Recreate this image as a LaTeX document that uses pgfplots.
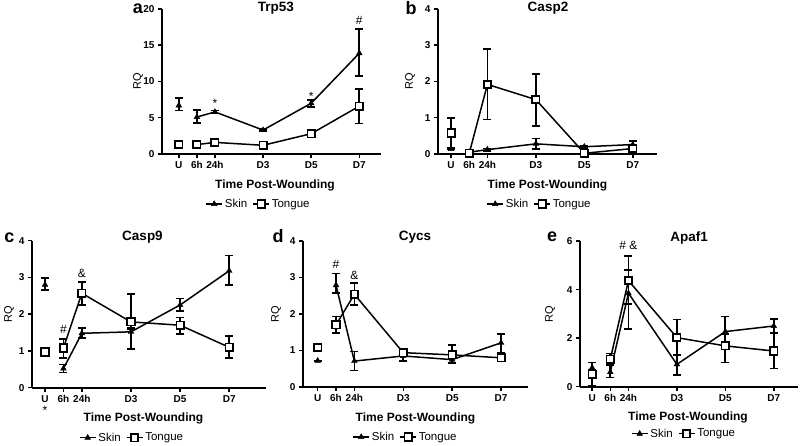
\documentclass[border=0pt]{standalone}
\usepackage{fontspec}
\setmainfont{Liberation Sans}
\usepackage{pgfplots}
\pgfplotsset{compat=1.18}
\pgfplotsset{
 prism/.style={
  scale only axis, anchor=south west, clip=false,
  axis x line*=bottom, axis y line*=left,
  axis line style={line width=1.7pt, black, -},
  xtick={-0.5,0.25,1,3,5,7},
  xticklabels={U,6h,24h,D3,D5,D7},
  tick align=outside, major tick length=4pt,
  every tick/.style={black, line width=1.5pt},
  ymin=0,
  tick label style={font=\fontsize{10}{12}\selectfont\bfseries},
  /pgf/number format/assume math mode=true,
  xlabel={Time Post-Wounding},
  xlabel style={font=\fontsize{12}{14}\selectfont\bfseries, anchor=center},
  ylabel={RQ},
  ylabel style={font=\fontsize{11}{13}\selectfont, anchor=center},
  legend columns=2,
  legend style={draw=none, fill=none, font=\fontsize{11.5}{13}\selectfont, anchor=center, /tikz/every even column/.append style={column sep=3pt}},
  legend image code/.code={\draw[mark repeat=2,mark phase=2,##1] plot coordinates {(0pt,0pt) (8pt,0pt) (16pt,0pt)};},
 },
 labs/.style n args={5}{
  xlabel style={at={([xshift=#1pt, yshift=-31pt]axis description cs:0.5,0)}},
  ylabel style={at={([xshift=-#2pt]axis description cs:0,0.5)}},
  legend style={at={([xshift=#3pt, yshift=-#4pt]axis description cs:0.5,0)}},
 },
 eb/.style={
  error bars/y dir=both, error bars/y explicit,
  error bars/error bar style={line width=1.7pt},
  error bars/error mark options={rotate=90, mark size=4pt, line width=1.7pt}},
 skin/.style={black, line width=1.5pt, mark=triangle*, mark size=3.3pt,
  mark options={solid, fill=black, line width=0.4pt}, eb},
 tongue/.style={black, line width=1.5pt, mark=square*, mark size=3.7pt,
  mark options={solid, fill=white, line width=1.7pt}, eb},
}
\newcommand{\annfont}{\fontsize{12}{14}\selectfont}
\begin{document}
\begin{tikzpicture}[x=1pt,y=1pt]
\useasboundingbox (0,0) rectangle (800,446);
% ---------------- a: Trp53
\begin{axis}[prism, at={(162pt,292pt)}, width=219pt, height=145pt,
  xmin=-1.2, xmax=7.9, ymax=20, ytick={0,5,10,15,20},
  labs={3.5}{24}{-13}{50}{}]
\addplot[skin] table[x=x,y=y,y error plus=ep,y error minus=em,row sep=\\]{
x y ep em\\ 0.25 5.1 1.0 0.8\\ 1 5.8 0.2 0.2\\ 3 3.3 0.15 0.15\\ 5 7.0 0.4 0.5\\ 7 13.9 3.3 3.1\\};
\addlegendentry{Skin}
\addplot[tongue] table[x=x,y=y,y error plus=ep,y error minus=em,row sep=\\]{
x y ep em\\ 0.25 1.3 0.15 0.15\\ 1 1.6 0.2 0.2\\ 3 1.2 0.15 0.15\\ 5 2.8 0.2 0.2\\ 7 6.6 2.4 2.4\\};
\addlegendentry{Tongue}
\addplot[skin, only marks, forget plot] table[x=x,y=y,y error plus=ep,y error minus=em,row sep=\\]{
x y ep em\\ -0.5 6.7 1.0 0.7\\};
\addplot[tongue, only marks, forget plot] table[x=x,y=y,y error plus=ep,y error minus=em,row sep=\\]{
x y ep em\\ -0.5 1.3 0.2 0.2\\};
\node[font=\annfont] at (axis cs:1,7.0) {*};
\node[font=\annfont] at (axis cs:5,7.9) {*};
\node[font=\annfont] at (axis cs:7,18.4) {\#};
\end{axis}
% ---------------- b: Casp2
\begin{axis}[prism, at={(438pt,292pt)}, width=219pt, height=145pt,
  xmin=-1.04, xmax=8.0, ymax=4, ytick={0,1,2,3,4},
  labs={0}{28}{-8}{50}{}]
\addplot[skin] table[x=x,y=y,y error plus=ep,y error minus=em,row sep=\\]{
x y ep em\\ 0.25 0.05 0.02 0.02\\ 1 0.12 0.03 0.03\\ 3 0.28 0.15 0.14\\ 5 0.2 0.03 0.03\\ 7 0.26 0.1 0.1\\};
\addlegendentry{Skin}
\addplot[tongue] table[x=x,y=y,y error plus=ep,y error minus=em,row sep=\\]{
x y ep em\\ 0.25 0.02 0.02 0.02\\ 1 1.92 0.97 0.97\\ 3 1.5 0.7 0.72\\ 5 0.02 0.02 0.02\\ 7 0.15 0.08 0.06\\};
\addlegendentry{Tongue}
\addplot[skin, only marks, forget plot] table[x=x,y=y,y error plus=ep,y error minus=em,row sep=\\]{
x y ep em\\ -0.5 0.14 0.02 0.02\\};
\addplot[tongue, only marks, forget plot] table[x=x,y=y,y error plus=ep,y error minus=em,row sep=\\]{
x y ep em\\ -0.5 0.58 0.42 0.44\\};
\end{axis}
% ---------------- c: Casp9
\begin{axis}[prism, at={(32pt,58.3pt)}, width=234pt, height=147pt,
  xmin=-1.03, xmax=8.5, ymax=4, ytick={0,1,2,3,4},
  labs={-5.5}{23}{-17}{50}{}]
\addplot[skin] table[x=x,y=y,y error plus=ep,y error minus=em,row sep=\\]{
x y ep em\\ 0.25 0.52 0.11 0.11\\ 1 1.48 0.15 0.12\\ 3 1.52 0.1 0.47\\ 5 2.25 0.18 0.17\\ 7 3.18 0.42 0.38\\};
\addlegendentry{Skin}
\addplot[tongue] table[x=x,y=y,y error plus=ep,y error minus=em,row sep=\\]{
x y ep em\\ 0.25 1.08 0.24 0.27\\ 1 2.57 0.3 0.32\\ 3 1.79 0.76 0.2\\ 5 1.7 0.21 0.23\\ 7 1.1 0.3 0.3\\};
\addlegendentry{Tongue}
\addplot[skin, only marks, forget plot] table[x=x,y=y,y error plus=ep,y error minus=em,row sep=\\]{
x y ep em\\ -0.5 2.8 0.18 0.14\\};
\addplot[tongue, only marks, forget plot] table[x=x,y=y,y error plus=ep,y error minus=em,row sep=\\]{
x y ep em\\ -0.5 0.97 0.03 0.03\\};
\node[font=\annfont] at (axis cs:0.25,1.58) {\#};
\node[font=\annfont] at (axis cs:1,3.1) {\&};
\node[font=\annfont, yshift=-23pt] at (axis cs:-0.5,0) {*};
\end{axis}
% ---------------- d: Cycs
\begin{axis}[prism, at={(303pt,59pt)}, width=225pt, height=146pt,
  xmin=-1.1, xmax=8.1, ymax=4, ytick={0,1,2,3,4},
  labs={0}{27}{-10}{50}{}]
\addplot[skin] table[x=x,y=y,y error plus=ep,y error minus=em,row sep=\\]{
x y ep em\\ 0.25 2.79 0.32 0.22\\ 1 0.71 0.26 0.26\\ 3 0.85 0.12 0.13\\ 5 0.75 0.08 0.09\\ 7 1.21 0.25 0.27\\};
\addlegendentry{Skin}
\addplot[tongue] table[x=x,y=y,y error plus=ep,y error minus=em,row sep=\\]{
x y ep em\\ 0.25 1.7 0.23 0.23\\ 1 2.54 0.3 0.29\\ 3 0.94 0.06 0.06\\ 5 0.88 0.27 0.23\\ 7 0.8 0.04 0.04\\};
\addlegendentry{Tongue}
\addplot[skin, only marks, forget plot] table[x=x,y=y,y error plus=ep,y error minus=em,row sep=\\]{
x y ep em\\ -0.5 0.72 0.0 0.0\\};
\addplot[tongue, only marks, forget plot] table[x=x,y=y,y error plus=ep,y error minus=em,row sep=\\]{
x y ep em\\ -0.5 1.08 0.0 0.0\\};
\node[font=\annfont] at (axis cs:0.25,3.37) {\#};
\node[font=\annfont] at (axis cs:1,3.07) {\&};
\end{axis}
% ---------------- e: Apaf1
\begin{axis}[prism, at={(580pt,59.3pt)}, width=218pt, height=145.7pt,
  xmin=-1.0, xmax=8.0, ymax=6, ytick={0,2,4,6},
  labs={-1}{30}{-5}{47}{}]
\addplot[skin] table[x=x,y=y,y error plus=ep,y error minus=em,row sep=\\]{
x y ep em\\ 0.25 0.6 0.3 0.22\\ 1 3.85 0.95 0.45\\ 3 0.92 0.38 0.44\\ 5 2.27 0.62 0.5\\ 7 2.5 0.3 0.3\\};
\addlegendentry{Skin}
\addplot[tongue] table[x=x,y=y,y error plus=ep,y error minus=em,row sep=\\]{
x y ep em\\ 0.25 1.13 0.24 0.23\\ 1 4.37 1.0 2.0\\ 3 2.02 0.75 0.72\\ 5 1.68 0.5 0.68\\ 7 1.47 0.73 0.72\\};
\addlegendentry{Tongue}
\addplot[skin, only marks, forget plot] table[x=x,y=y,y error plus=ep,y error minus=em,row sep=\\]{
x y ep em\\ -0.5 0.78 0.22 0.25\\};
\addplot[tongue, only marks, forget plot] table[x=x,y=y,y error plus=ep,y error minus=em,row sep=\\]{
x y ep em\\ -0.5 0.51 0.2 0.49\\};
\node[font=\annfont] at (axis cs:1,5.8) {\# \&};
\end{axis}
% panel letters and titles
\begin{scope}[every node/.style={inner sep=0pt}]
\node[anchor=base, font=\fontsize{18}{19}\selectfont\bfseries] at (138,432) {a};
\node[anchor=base, font=\fontsize{18}{19}\selectfont\bfseries] at (411,431) {b};
\node[anchor=base, font=\fontsize{18}{19}\selectfont\bfseries] at (9.5,203) {c};
\node[anchor=base, font=\fontsize{18}{19}\selectfont\bfseries] at (278,203) {d};
\node[anchor=base, font=\fontsize{18}{19}\selectfont\bfseries] at (552,204) {e};
\node[anchor=base, font=\fontsize{13.5}{15}\selectfont\bfseries] at (275.8,434) {Trp53};
\node[anchor=base, font=\fontsize{13.5}{15}\selectfont\bfseries] at (548,434) {Casp2};
\node[anchor=base, font=\fontsize{13.5}{15}\selectfont\bfseries] at (142.5,205) {Casp9};
\node[anchor=base, font=\fontsize{13.5}{15}\selectfont\bfseries] at (415,205) {Cycs};
\node[anchor=base, font=\fontsize{13.5}{15}\selectfont\bfseries] at (689,204) {Apaf1};
\end{scope}
\end{tikzpicture}
\end{document}
